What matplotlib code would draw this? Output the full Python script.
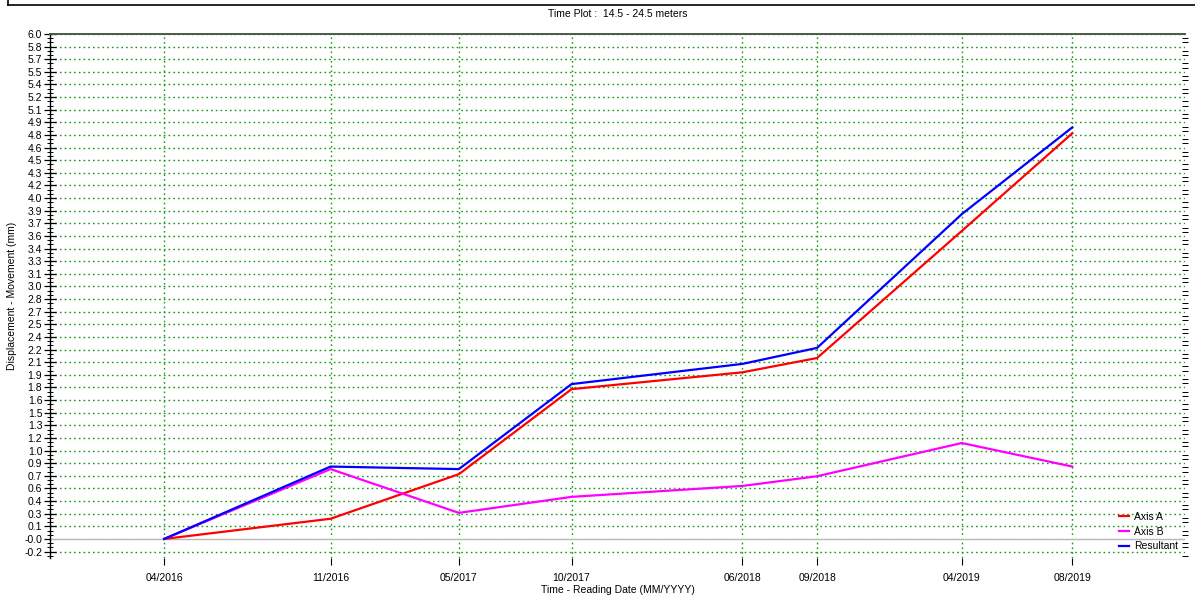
import matplotlib
matplotlib.use('Agg')
import matplotlib.pyplot as plt
from matplotlib.lines import Line2D
from matplotlib.ticker import FixedLocator, MultipleLocator
import numpy as np
import pandas as pd

plt.rcParams['font.family'] = ['Liberation Sans', 'DejaVu Sans']

# reading dates (positions) and their labels
dates = pd.to_datetime(['2016-04-14', '2016-11-23', '2017-05-14', '2017-10-12',
                        '2018-05-29', '2018-09-06', '2019-03-19', '2019-08-14'])
date_labels = ['04/2016', '11/2016', '05/2017', '10/2017',
               '06/2018', '09/2018', '04/2019', '08/2019']

axis_a = [0.0, 0.24, 0.77, 1.78, 1.98, 2.15, 3.66, 4.82]
axis_b = [0.0, 0.83, 0.31, 0.50, 0.63, 0.745, 1.14, 0.86]
resultant = [0.0, 0.86, 0.83, 1.84, 2.08, 2.27, 3.86, 4.89]

title = 'Time Plot :  14.5 - 24.5 meters'
grid_green = '#1a9a1a'

fig = plt.figure(figsize=(11.95, 5.96), dpi=100)
ax = fig.add_axes([0.0418, 0.0638, 0.9498, 0.8792])

ax.plot(dates, axis_a, color='#ff0000', lw=1.6, label='Axis A', zorder=3)
ax.plot(dates, axis_b, color='#ff00ff', lw=1.6, label='Axis B', zorder=3)
ax.plot(dates, resultant, color='#0000ff', lw=1.6, label='Resultant', zorder=3)

# x axis
ax.set_xlim(dates[0] - pd.Timedelta(days=153), dates[0] + pd.Timedelta(days=1368))
ax.set_xticks(dates)
ax.set_xticklabels(date_labels)
ax.tick_params(axis='x', direction='out', length=5, width=0.8, labelsize=7.5, pad=6)

# y axis: major ticks every 0.15 from 6.0 down
yt = np.round(6.0 - 0.15 * np.arange(42), 4)
ax.set_ylim(-0.226, 6.0)
ax.yaxis.set_major_locator(FixedLocator(yt))
ax.set_yticklabels(['%.1f' % (v - 1e-9) for v in yt])
ax.yaxis.set_minor_locator(MultipleLocator(0.05))
ax.tick_params(axis='y', which='major', direction='inout', length=9, width=0.9,
               labelsize=7.5, pad=1)
ax.tick_params(axis='y', which='minor', direction='inout', length=5, width=0.7,
               right=True)

# grid
ax.grid(True, which='major', color=grid_green, linestyle=(0, (1.2, 2.2)), lw=1.0)
ax.axhline(0, color='white', lw=2.0, zorder=2)
ax.axhline(0, color='#b8b8b8', lw=1.0, zorder=2.1)

for s in ['bottom', 'right']:
    ax.spines[s].set_visible(False)
ax.spines['top'].set_color('#4a5a4a')
ax.spines['top'].set_linewidth(1.4)
ax.spines['left'].set_linewidth(1.0)

ax.set_title(title, fontsize=7.5, pad=12)
ax.set_xlabel('Time - Reading Date (MM/YYYY)', fontsize=7.5, labelpad=1.5)
ax.set_ylabel('Displacement - Movement (mm)', fontsize=7.5, labelpad=5)

ax.legend(loc='lower right', bbox_to_anchor=(1.0, 0.0), frameon=False,
          fontsize=7.5, handlelength=1.0, handletextpad=0.5, labelspacing=0.45,
          borderaxespad=0.25)

# outer frame edge
fig.add_artist(Line2D([8 / 1195, 1.0], [1 - 5 / 596, 1 - 5 / 596],
                      transform=fig.transFigure, color='black', lw=1.2))
fig.add_artist(Line2D([8 / 1195, 8 / 1195], [1 - 5 / 596, 1.0],
                      transform=fig.transFigure, color='black', lw=1.2))

fig.savefig('out.png', dpi=100)
